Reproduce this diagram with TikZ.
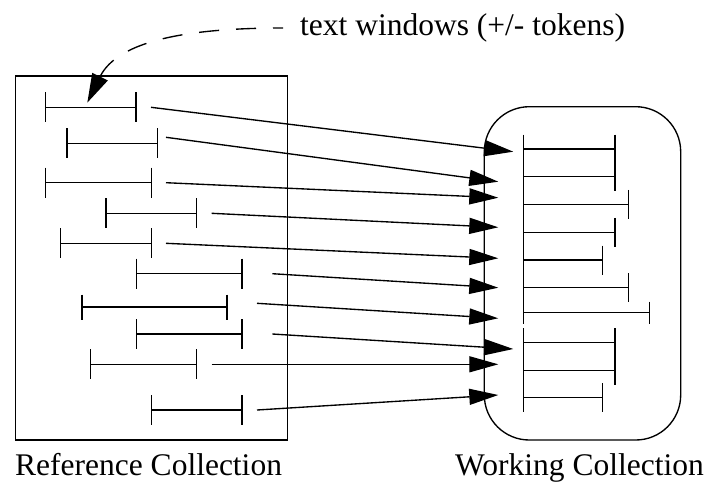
\documentclass[tikz,border=0pt]{standalone}
\usepackage{fontspec}
\setmainfont{Liberation Serif}
\usetikzlibrary{arrows.meta}
\newcommand\drawwin[4]{% x1, x2, y, half tick height
  \draw[winline] (#1,#3-#4) -- (#1,#3+#4) (#1,#3) -- (#2,#3) (#2,#3-#4) -- (#2,#3+#4);}
\begin{document}
\begin{tikzpicture}[x=1pt,y=-1pt,
  every node/.style={font=\fontsize{31.5}{36}\selectfont},
  winline/.style={line width=1.35pt},
  boxline/.style={draw, line width=1.35pt, inner sep=0pt, outer sep=0pt},
  conn/.style={line width=1.35pt, -{Triangle[length=29pt,width=16pt]}},
  dashconn/.style={line width=1.35pt, dash pattern=on 20pt off 17pt, dash phase=10pt, -{Triangle[length=29pt,width=17pt]}},
  lbl/.style={anchor=base west, inner sep=0pt}]
\useasboundingbox (0,0) rectangle (707,483);
% boxes
\node[boxline, minimum width=272.4pt, minimum height=364pt] (refbox) at (151.5,258) {};
\node[boxline, rounded corners=45pt, minimum width=196.4pt, minimum height=333.3pt] (workbox) at (582.5,273.35) {};
% left windows
\drawwin{45.7}{136}{107.3}{15}
\drawwin{67}{157.7}{143.3}{15}
\drawwin{45.7}{151.7}{182.7}{15}
\drawwin{106}{196.7}{213.3}{15}
\drawwin{60.7}{151.7}{243.3}{15}
\drawwin{136.3}{242}{273.7}{15}
\drawwin{82}{227}{307}{12.5}
\drawwin{136.3}{242}{334}{15}
\drawwin{90.7}{196.7}{364.3}{15}
\drawwin{151.7}{242}{410}{15}
% right windows
\drawwin{523.3}{615}{149}{14.5}
\drawwin{523.3}{615}{176.7}{14.5}
\drawwin{523.3}{628.3}{204.3}{14.5}
\drawwin{523.3}{615}{232.3}{14.5}
\drawwin{523.3}{602.3}{260}{14.5}
\drawwin{523.3}{628.3}{287.7}{14.5}
\drawwin{523.3}{649.3}{312.7}{11}
\drawwin{523.3}{615}{342.7}{14.5}
\drawwin{523.3}{615}{370.7}{14.5}
\drawwin{523.3}{602.3}{397.7}{14.5}
% connector end points
\coordinate (s1) at (151,107.3);   \coordinate (e1) at (513.3,151.7);
\coordinate (s2) at (166,137.3);   \coordinate (e2) at (498.3,181.7);
\coordinate (s3) at (166,182.7);   \coordinate (e3) at (498.3,197.7);
\coordinate (s4) at (211.7,213.3); \coordinate (e4) at (498.3,227.3);
\coordinate (s5) at (166,243.3);   \coordinate (e5) at (498.3,258.3);
\coordinate (s6) at (272.3,273.7); \coordinate (e6) at (498.3,287.7);
\coordinate (s7) at (257,303.3);   \coordinate (e7) at (498.3,318.3);
\coordinate (s8) at (272.3,334);   \coordinate (e8) at (513.3,349);
\coordinate (s9) at (211.7,364.3); \coordinate (e9) at (498.3,364.3);
\coordinate (s10) at (257,410);    \coordinate (e10) at (498.3,395);
\foreach \i in {1,...,10} { \draw[conn] (s\i) -- (e\i); }
% labels
\node[lbl] (tw) at (300,35.5) {text windows (+/- tokens)};
\node[lbl] (refl) at (15,475.5) {Reference Collection};
\node[lbl] (workl) at (455,475.5) {Working Collection};
% dashed callout
\coordinate (dstart) at (283,28);
\coordinate (dend) at (87.3,102.7);
\draw[dashconn] (dstart) .. controls (190,28) and (118,40) .. (dend);
\end{tikzpicture}
\end{document}
